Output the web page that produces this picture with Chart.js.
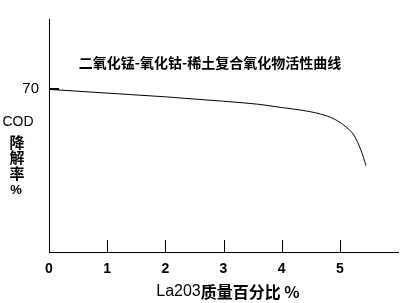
<!DOCTYPE html>
<html>
<head>
<meta charset="utf-8">
<script src="https://cdn.jsdelivr.net/npm/chart.js@4"></script>
<style>
  html, body { margin: 0; padding: 0; background: #fff; }
  canvas { display: block; }
</style>
</head>
<body>
<canvas id="codChart" width="402" height="303"></canvas>
<script>
// values
const la2o3Percent = [0, 1, 2, 3, 3.6, 4, 4.33, 4.67, 4.9, 5.07, 5.24, 5.36, 5.45];
const codRemoval = [69.8, 68.2, 66.6, 64.7, 63.4, 62.0, 60.9, 59.2, 57.1, 54.4, 50.2, 43.9, 37.1];
const xTickValues = [0, 1, 2, 3, 4, 5];
const yTickValues = [70];

const chartTitle = '二氧化锰-氧化钴-稀土复合氧化物活性曲线';
const yTitleLatin = 'COD';
const yTitleCjk = ['降', '解', '率', '%'];
const xTitleLatin = 'La203';
const xTitleCjk = '质量百分比 %';

const CJK = "'Noto Sans CJK SC'";
const LATIN = "'Liberation Sans', 'DejaVu Sans'";

// inward tick marks + free text (title, axis titles)
const decorations = {
    id: 'decorations',
    afterDraw(chart) {
        const c = chart.ctx;
        const xs = chart.scales.x;
        const ys = chart.scales.y;
        const area = chart.chartArea;
        c.save();
        c.strokeStyle = '#000';
        c.fillStyle = '#000';

        // x ticks pointing into the plot
        c.lineWidth = 1;
        xTickValues.filter(v => v > 0).forEach(v => {
            const px = Math.round(xs.getPixelForValue(v)) + 0.5;
            c.beginPath();
            c.moveTo(px, area.bottom);
            c.lineTo(px, area.bottom - 12);
            c.stroke();
        });

        // y tick at 70
        c.lineWidth = 2;
        yTickValues.forEach(v => {
            const py = Math.round(ys.getPixelForValue(v));
            c.beginPath();
            c.moveTo(area.left, py);
            c.lineTo(area.left + 10, py);
            c.stroke();
        });

        c.textAlign = 'center';
        c.textBaseline = 'middle';

        // chart title inside plot
        c.font = 'bold 14px ' + CJK;
        c.fillText(chartTitle, 210, 63);

        // y axis title, stacked
        c.font = '14px ' + LATIN;
        c.fillText(yTitleLatin, 18, 122);
        c.font = 'bold 15px ' + CJK;
        yTitleCjk.forEach((ch, i) => {
            if (ch === '%') {
                c.font = 'bold 13px ' + LATIN;
                c.fillText(ch, 16, 144 + i * 15.5);
            } else {
                c.fillText(ch, 17, 142 + i * 15.5);
            }
        });

        // x axis title
        c.textAlign = 'left';
        c.font = '16px ' + LATIN;
        const w1 = c.measureText(xTitleLatin).width;
        c.font = 'bold 16px ' + CJK;
        const w2 = c.measureText(xTitleCjk).width;
        const start = 228 - (w1 + w2) / 2;
        c.font = '16px ' + LATIN;
        c.fillText(xTitleLatin, start, 292);
        c.font = 'bold 16px ' + CJK;
        c.fillText(xTitleCjk, start + w1, 292);

        c.restore();
    }
};

const ctx = document.getElementById('codChart').getContext('2d');
const codChart = new Chart(ctx, {
    type: 'line',
    data: {
        datasets: [{
            data: la2o3Percent.map((x, i) => ({ x: x, y: codRemoval[i] })),
            borderColor: '#000',
            borderWidth: 1,
            pointRadius: 0,
            fill: false,
            cubicInterpolationMode: 'monotone'
        }]
    },
    options: {
        responsive: false,
        animation: false,
        layout: { padding: { top: 15, right: 4, left: 0, bottom: 0 } },
        plugins: {
            legend: { display: false },
            tooltip: { enabled: false },
            title: { display: false }
        },
        scales: {
            x: {
                type: 'linear',
                min: 0,
                max: 6,
                afterBuildTicks(scale) {
                    scale.ticks = xTickValues.map(v => ({ value: v }));
                },
                afterFit(scale) { scale.height = 51; },
                grid: { display: true, drawOnChartArea: false, drawTicks: false },
                border: { display: true, color: '#000', width: 1 },
                ticks: {
                    color: '#000',
                    padding: 9,
                    maxRotation: 0,
                    font: { family: LATIN, size: 14, weight: 'bold' }
                }
            },
            y: {
                type: 'linear',
                min: 0,
                max: 100,
                afterBuildTicks(scale) {
                    scale.ticks = yTickValues.map(v => ({ value: v }));
                },
                afterFit(scale) { scale.width = 49; },
                grid: { display: true, drawOnChartArea: false, drawTicks: false },
                border: { display: true, color: '#000', width: 1 },
                ticks: {
                    color: '#000',
                    padding: 10,
                    font: { family: LATIN, size: 15 }
                }
            }
        }
    },
    plugins: [decorations]
});
</script>
</body>
</html>
